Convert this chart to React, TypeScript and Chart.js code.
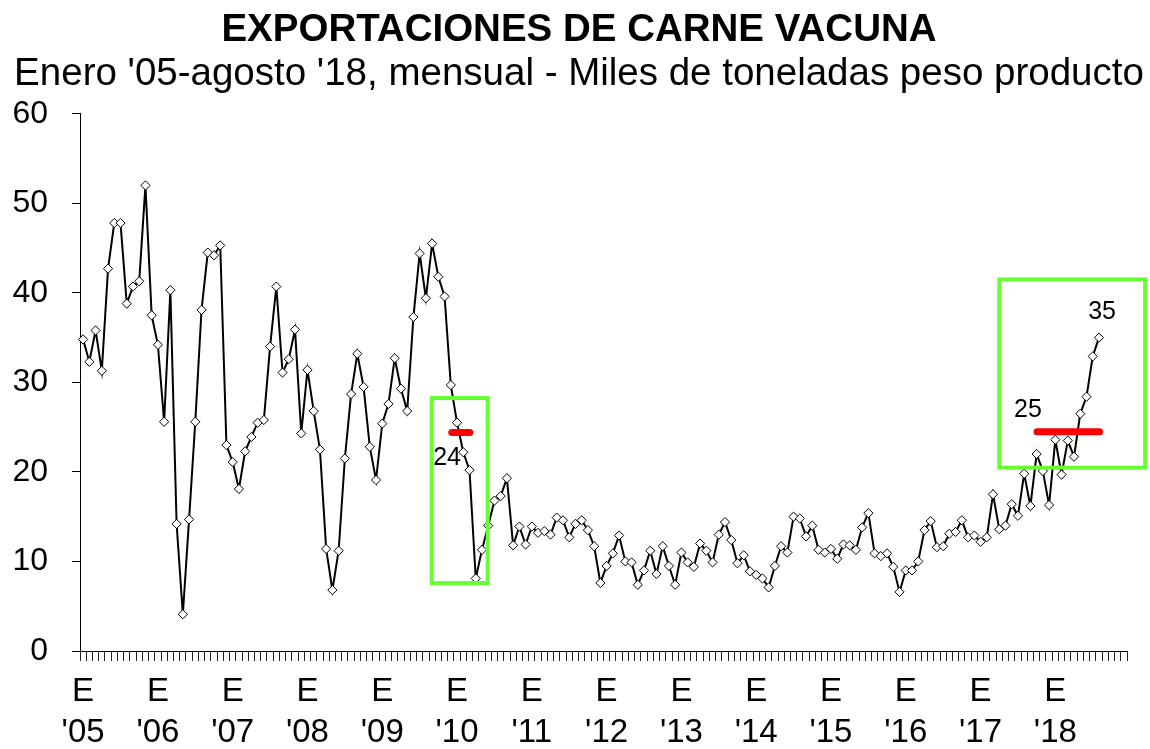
import { useEffect, useRef } from 'react';
import { Chart, registerables } from 'chart.js';

Chart.register(...registerables);

// ---- categories / tick labels ----
const yearTicks = ["'05", "'06", "'07", "'08", "'09", "'10", "'11", "'12", "'13", "'14", "'15", "'16", "'17", "'18"];
const monthCodes = ['01', '02', '03', '04', '05', '06', '07', '08', '09', '10', '11', '12'];
const monthTick = 'E';
const categories = yearTicks.flatMap((yy) => monthCodes.map((m) => `20${yy.slice(1)}-${m}`));

// ---- series values (miles de toneladas peso producto) ----
const v2005 = [34.8, 32.3, 35.8, 31.3, 42.7, 47.8, 47.8, 38.8, 40.7, 41.3, 52.0, 37.5];
const v2006 = [34.2, 25.6, 40.3, 14.2, 4.1, 14.7, 25.6, 38.1, 44.5, 44.2, 45.3, 23.0];
const v2007 = [21.1, 18.1, 22.3, 23.9, 25.5, 25.8, 34.0, 40.7, 31.1, 32.6, 35.9, 24.3];
const v2008 = [31.4, 26.8, 22.5, 11.4, 6.8, 11.2, 21.5, 28.7, 33.2, 29.5, 22.8, 19.1];
const v2009 = [25.4, 27.6, 32.7, 29.3, 26.8, 37.3, 44.4, 39.4, 45.5, 41.8, 39.6, 29.7];
const v2010 = [25.5, 22.2, 20.2, 8.1, 11.3, 14.0, 16.8, 17.3, 19.3, 11.8, 13.9, 11.9];
const v2011 = [13.9, 13.2, 13.4, 13.0, 14.9, 14.6, 12.7, 14.2, 14.6, 13.5, 11.7, 7.6];
const v2012 = [9.5, 10.9, 12.9, 10.0, 9.9, 7.4, 9.0, 11.2, 8.6, 11.7, 9.5, 7.4];
const v2013 = [11.0, 9.9, 9.4, 12.0, 11.2, 9.9, 13.0, 14.4, 12.4, 9.8, 10.7, 8.9];
const v2014 = [8.5, 8.1, 7.1, 9.5, 11.7, 11.0, 15.0, 14.8, 12.8, 14.0, 11.3, 11.0];
const v2015 = [11.4, 10.3, 11.9, 11.8, 11.3, 13.8, 15.4, 10.9, 10.6, 10.9, 9.4, 6.6];
const v2016 = [9.0, 9.0, 10.0, 13.5, 14.5, 11.6, 11.7, 13.1, 13.3, 14.6, 12.7, 12.9];
const v2017 = [12.2, 12.7, 17.5, 13.6, 14.0, 16.4, 15.1, 19.8, 16.2, 22.0, 20.1, 16.3];
const v2018 = [23.6, 19.7, 23.5, 21.7, 26.5, 28.4, 32.9, 35.0];
const exportValues = [
  ...v2005, ...v2006, ...v2007, ...v2008, ...v2009, ...v2010, ...v2011,
  ...v2012, ...v2013, ...v2014, ...v2015, ...v2016, ...v2017, ...v2018,
];

// ---- y axis ----
const yMin = 0;
const yMax = 60;
const yStep = 10;

// ---- annotations (data coordinates: category index, value) ----
const boxX0 = [55.93, 147.0];
const boxX1 = [64.92, 170.4];
const boxY0 = [7.59, 20.48];
const boxY1 = [28.25, 41.5];
const avgX0 = [59.16, 153.06];
const avgX1 = [62.05, 163.1];
const avgY = [24.4, 24.5];
const noteText = ['24', '25', '35'];
const noteX = [58.4, 151.6, 163.5];
const noteY = [21.57, 26.93, 37.81];

const FONT = "'Liberation Sans', Arial, Helvetica, sans-serif";

const annotationPlugin = {
  id: 'highlights',
  afterDatasetsDraw(chart: any) {
    const { ctx } = chart;
    const xs = chart.scales.x;
    const ys = chart.scales.y;
    ctx.save();
    // green boxes
    ctx.strokeStyle = '#66ff33';
    ctx.lineWidth = 4;
    ctx.lineJoin = 'miter';
    for (let i = 0; i < boxX0.length; i++) {
      const l = xs.getPixelForValue(boxX0[i]);
      const r = xs.getPixelForValue(boxX1[i]);
      const t = ys.getPixelForValue(boxY1[i]);
      const b = ys.getPixelForValue(boxY0[i]);
      ctx.strokeRect(l, t, r - l, b - t);
    }
    // red average lines
    ctx.strokeStyle = '#ff0000';
    ctx.lineWidth = 7;
    ctx.lineCap = 'round';
    for (let i = 0; i < avgX0.length; i++) {
      const yy = ys.getPixelForValue(avgY[i]);
      ctx.beginPath();
      ctx.moveTo(xs.getPixelForValue(avgX0[i]), yy);
      ctx.lineTo(xs.getPixelForValue(avgX1[i]), yy);
      ctx.stroke();
    }
    // value labels
    ctx.fillStyle = '#000';
    ctx.font = `25px ${FONT}`;
    ctx.textAlign = 'center';
    ctx.textBaseline = 'middle';
    for (let i = 0; i < noteText.length; i++) {
      ctx.fillText(noteText[i], xs.getPixelForValue(noteX[i]), ys.getPixelForValue(noteY[i]));
    }
    ctx.restore();
  },
};

export default function App() {
  const canvasRef = useRef<HTMLCanvasElement | null>(null);

  useEffect(() => {
    if (!canvasRef.current) return;
    Chart.defaults.font.family = FONT;
    Chart.defaults.color = '#000';
    const chart = new Chart(canvasRef.current, {
      type: 'line',
      data: {
        labels: categories,
        datasets: [
          {
            label: 'Exportaciones',
            data: exportValues,
            borderColor: '#000',
            borderWidth: 2,
            tension: 0,
            pointStyle: 'rectRot',
            pointRadius: 4.6,
            pointBorderWidth: 1,
            pointBackgroundColor: '#fff',
            pointBorderColor: '#000',
            fill: false,
          },
        ],
      },
      options: {
        responsive: false,
        animation: false,
        layout: { padding: { left: 8, right: 0, top: 0, bottom: 0 } },
        plugins: {
          legend: { display: false },
          tooltip: { enabled: false },
          title: {
            display: true,
            text: 'EXPORTACIONES DE CARNE VACUNA',
            color: '#000',
            font: { size: 38.5, weight: 'bold', family: FONT, lineHeight: 1 },
            padding: { top: 11.6, bottom: 5.4 },
          },
          subtitle: {
            display: true,
            text: "Enero '05-agosto '18, mensual - Miles de toneladas peso producto",
            color: '#000',
            font: { size: 38.5, family: FONT, lineHeight: 1 },
            padding: { top: 0, bottom: 19.8 },
          },
        },
        scales: {
          x: {
            type: 'category',
            offset: true,
            grid: {
              display: true,
              drawOnChartArea: false,
              drawTicks: true,
              tickLength: 10,
              offset: true,
              color: '#222',
              lineWidth: 1,
            },
            border: { display: true, color: '#000', width: 1 },
            ticks: {
              autoSkip: false,
              maxRotation: 0,
              minRotation: 0,
              padding: 9.5,
              color: '#000',
              font: { size: 33, family: FONT, lineHeight: 1.27 },
              callback: (_v: any, index: number) =>
                index % 12 === 0 ? [monthTick, yearTicks[index / 12]] : '',
            },
            afterFit: (scale: any) => {
              scale.height = 98;
            },
          },
          y: {
            min: yMin,
            max: yMax,
            grid: {
              display: true,
              drawOnChartArea: false,
              drawTicks: true,
              tickLength: 8,
              color: '#000',
              lineWidth: 1,
            },
            border: { display: true, color: '#000', width: 1 },
            ticks: {
              stepSize: yStep,
              padding: 24,
              color: '#000',
              font: { size: 32, family: FONT },
            },
            afterFit: (scale: any) => {
              scale.width = 72;
            },
          },
          yRight: {
            position: 'right',
            display: true,
            grid: { display: false },
            border: { display: false },
            ticks: { display: false },
            afterFit: (scale: any) => {
              scale.width = 23;
            },
          },
        },
      },
      plugins: [annotationPlugin],
    });
    return () => chart.destroy();
  }, []);

  return (
    <div style={{ position: 'fixed', left: 0, top: 0, width: 1150, height: 749, background: '#fff' }}>
      <canvas ref={canvasRef} width={1150} height={749} />
    </div>
  );
}
